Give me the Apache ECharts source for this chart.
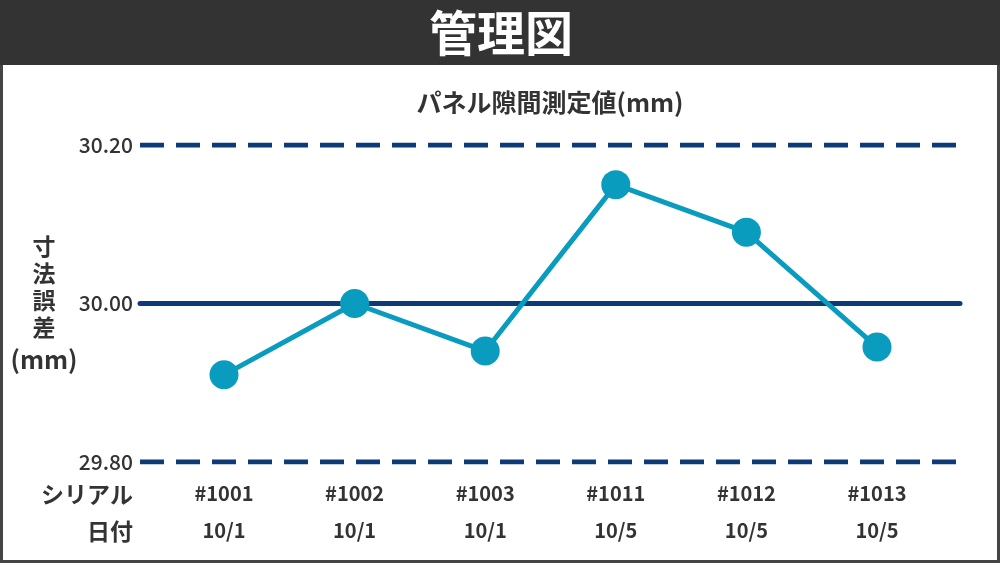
<!DOCTYPE html>
<html>
<head>
<meta charset="utf-8">
<script src="https://cdn.jsdelivr.net/npm/echarts@6/dist/echarts.min.js"></script>
<style>
  html, body { margin: 0; padding: 0; }
  #chart { width: 1000px; height: 563px; }
</style>
</head>
<body>
<div id="chart"></div>
<script>
// データ
const serials = ['#1001', '#1002', '#1003', '#1011', '#1012', '#1013'];
const dates = ['10/1', '10/1', '10/1', '10/5', '10/5', '10/5'];
const measured = [29.91, 30.00, 29.94, 30.15, 30.09, 29.945];
const upperLimit = 30.20;
const centerLine = 30.00;
const lowerLimit = 29.80;

const FONT = '"Noto Sans CJK JP", "Noto Sans", sans-serif';
const NAVY = '#0b3c78';
const TEAL = '#0a9cbf';
const TEXT = '#333333';

const chart = echarts.init(document.getElementById('chart'));

// 管理線（上限・中心・下限）
const limitLine = (value, dashed) => ({
  type: 'line',
  xAxisIndex: 0,
  yAxisIndex: 0,
  data: [[0, value], [1, value]],
  symbol: 'none',
  silent: true,
  z: 1,
  lineStyle: {
    color: NAVY,
    width: 5,
    type: dashed ? [24, 12] : 'solid',
    cap: dashed ? 'butt' : 'round'
  }
});

chart.setOption({
  backgroundColor: '#444444',
  animation: false,
  textStyle: { fontFamily: FONT },
  graphic: [
    { type: 'rect', shape: { x: 3, y: 65, width: 994, height: 495 }, style: { fill: '#ffffff' }, z: -10 },
    { type: 'rect', shape: { x: 0, y: 0, width: 1000, height: 65 }, style: { fill: '#333333' }, z: -10 },
    {
      type: 'text', x: 501, y: 33,
      style: { text: '管理図', fill: '#ffffff', font: 'bold 48px ' + FONT, align: 'center', verticalAlign: 'middle' }
    },
    {
      type: 'text', x: 550, y: 102,
      style: { text: 'パネル隙間測定値(mm)', fill: TEXT, font: 'bold 25px ' + FONT, align: 'center', verticalAlign: 'middle' }
    },
    {
      type: 'text', x: 44, y: 233,
      style: {
        text: '寸\n法\n誤\n差', fill: TEXT, font: 'bold 23px ' + FONT,
        align: 'center', verticalAlign: 'top', lineHeight: 27
      }
    },
    {
      type: 'text', x: 44, y: 359,
      style: { text: '(mm)', fill: TEXT, font: 'bold 25px ' + FONT, align: 'center', verticalAlign: 'middle' }
    },
    {
      type: 'text', x: 133, y: 494,
      style: { text: 'シリアル', fill: TEXT, font: 'bold 23px ' + FONT, align: 'right', verticalAlign: 'middle' }
    },
    {
      type: 'text', x: 133, y: 531,
      style: { text: '日付', fill: TEXT, font: 'bold 23px ' + FONT, align: 'right', verticalAlign: 'middle' }
    }
  ],
  grid: [
    { left: 140, width: 820, top: 145, height: 317 },
    { left: 158.7, width: 783.6, top: 145, height: 317 }
  ],
  xAxis: [
    { gridIndex: 0, type: 'value', min: 0, max: 1, show: false },
    {
      gridIndex: 1,
      type: 'category',
      data: serials,
      boundaryGap: true,
      axisLine: { show: false },
      axisTick: { show: false },
      axisLabel: {
        interval: 0,
        margin: 13,
        formatter: (value, idx) => '{a|' + value + '}\n{b|' + dates[idx] + '}',
        rich: {
          a: { fontFamily: FONT, fontSize: 20, fontWeight: 'bold', color: TEXT, lineHeight: 37 },
          b: { fontFamily: FONT, fontSize: 20, fontWeight: 'bold', color: TEXT, lineHeight: 37 }
        }
      }
    }
  ],
  yAxis: [
    {
      gridIndex: 0,
      type: 'value',
      min: lowerLimit,
      max: upperLimit,
      interval: 0.2,
      axisLine: { show: false },
      axisTick: { show: false },
      splitLine: { show: false },
      axisLabel: {
        margin: 7,
        fontFamily: FONT,
        fontSize: 21,
        fontWeight: 500,
        color: TEXT,
        formatter: (v) => v.toFixed(2)
      }
    },
    {
      gridIndex: 1,
      type: 'value',
      min: lowerLimit,
      max: upperLimit,
      show: false
    }
  ],
  series: [
    limitLine(upperLimit, true),
    limitLine(centerLine, false),
    limitLine(lowerLimit, true),
    {
      type: 'line',
      xAxisIndex: 1,
      yAxisIndex: 1,
      data: measured,
      symbol: 'circle',
      symbolSize: 29,
      z: 5,
      itemStyle: { color: TEAL },
      lineStyle: { color: TEAL, width: 5 }
    }
  ]
});
</script>
</body>
</html>
